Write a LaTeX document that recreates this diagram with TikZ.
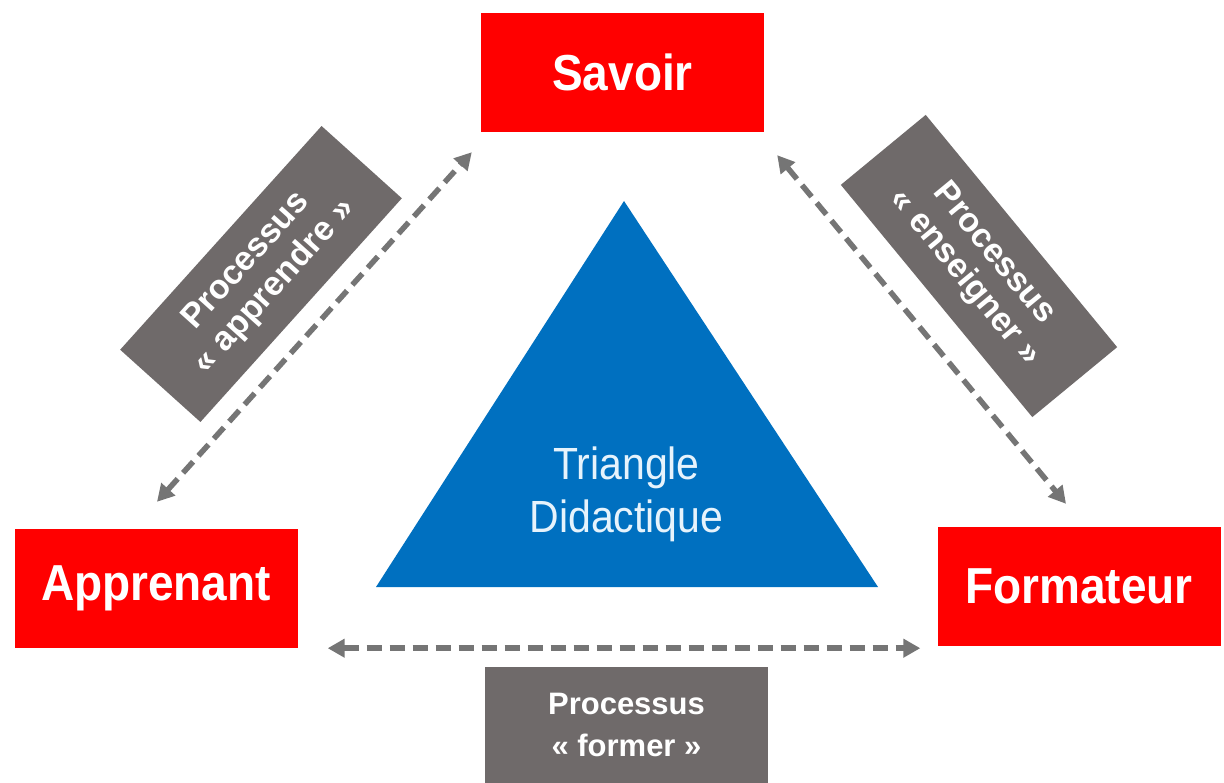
\documentclass[tikz,border=0pt]{standalone}
\usepackage{fontspec}
\setmainfont{Liberation Sans}
\usetikzlibrary{arrows.meta,calc}
\definecolor{sred}{HTML}{FF0000}
\definecolor{sgrey}{HTML}{6F6A6A}
\definecolor{sarrow}{HTML}{757575}
\definecolor{sblue}{HTML}{0070C0}
\definecolor{stext}{HTML}{E6F3FC}
\newcommand{\vstretch}[1]{\scalebox{1}[1.1]{#1}}
\begin{document}
\begin{tikzpicture}[x=1pt,y=-1pt,
  redbox/.style={fill=sred, minimum width=283pt, minimum height=119pt, inner sep=0pt,
    text=white, font=\bfseries\fontsize{46}{50}\selectfont},
  greybox/.style={fill=sgrey, inner sep=0pt, text=white, align=center,
    font=\bfseries\fontsize{31}{42}\selectfont},
  slantbox/.style={greybox, font=\bfseries\fontsize{34}{38}\selectfont},
  tritext/.style={text=stext, align=center, inner sep=0pt, font=\fontsize{41}{53}\selectfont},
  dasharrow/.style={draw=sarrow, line width=5.5pt, dash pattern=on 15pt off 8pt,
    {Triangle[length=17pt,width=18pt]}-{Triangle[length=17pt,width=18pt]}}]
\useasboundingbox (0,0) rectangle (1224,783);
\fill[white] (0,0) rectangle (1224,783);

% corner boxes
\node[redbox] (sav) at (622.5,72.5) {\vstretch{Savoir}};
\node[redbox] (app) at (156,588.5) {\vstretch{Apprenant}};
\node[redbox] (form) at (1079,586.5) {\vstretch{Formateur}};

% central triangle
\fill[sblue] (624,201) -- (878,587) -- (376,587) -- cycle;
\node[tritext] (tri) at (626.5,494) {\vstretch{Triangle}\\\vstretch{Didactique}};

% process labels
\node[slantbox, minimum width=301pt, minimum height=108pt, rotate=48] (gl) at (261,274)
  {Processus\\« apprendre »};
\node[slantbox, minimum width=301pt, minimum height=110pt, rotate=-50.5] (gr) at (979,266)
  {Processus\\« enseigner »};
\node[greybox, anchor=north, minimum width=283pt, minimum height=116pt] (gb) at (626.5,667)
  {Processus\\« former »};

% arrow end points
\coordinate (la) at ($(app.north)+(1,-27)$);
\coordinate (lb) at ($(sav.south west)+(-9,20)$);
\coordinate (ra) at ($(sav.south east)+(13,23)$);
\coordinate (rb) at ($(form.north)+(-13,-23)$);
\coordinate (ba) at ($(app.south east)+(30,0)$);
\coordinate (bb) at ($(form.south west)+(-17,2)$);

\draw[dasharrow] (la) -- (lb);
\draw[dasharrow] (ra) -- (rb);
\draw[dasharrow] (ba) -- (bb);
\end{tikzpicture}
\end{document}
